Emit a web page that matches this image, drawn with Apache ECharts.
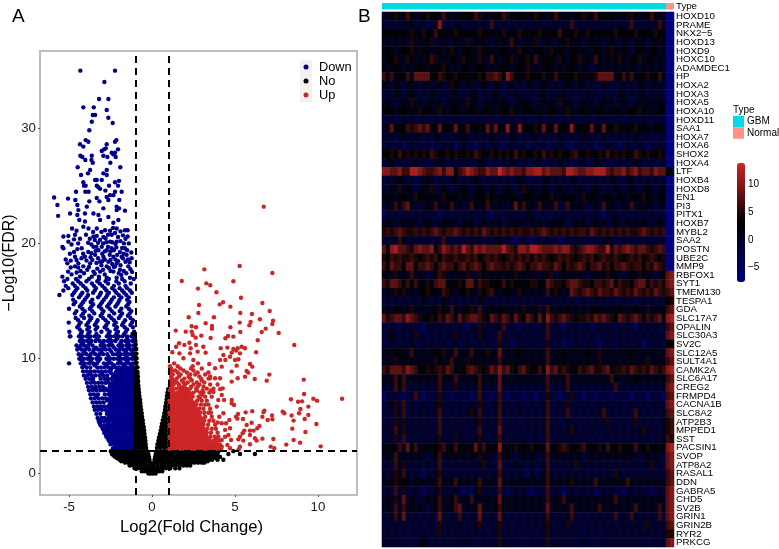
<!DOCTYPE html>
<html><head><meta charset="utf-8">
<style>html,body{margin:0;padding:0;background:#fff}#c{width:779px;height:549px}</style>
<script src="https://cdn.jsdelivr.net/npm/echarts@6/dist/echarts.min.js"></script>
</head><body><div id="c"></div><script>
const font='Liberation Sans';
const xTicks=[-5,0,5,10], yTicks=[0,10,20,30], barTicks=[-5,0,5,10];
const xThresholds=[-1,1], yThreshold=1.9;
// --- volcano: rows are [y, x, x, ...] for the packed mass, pairs [x,y] for loose points
const downRows=[
[2.15,-2.35,-2.12,-1.9,-1.68,-1.46,-1.24,-1.04],
[2.5,-2.5,-2.28,-2.05,-1.83,-1.6,-1.38,-1.15],
[2.8,-2.6,-2.4,-2.18,-1.95,-1.74,-1.52,-1.3,-1.07],
[3.15,-2.75,-2.52,-2.3,-2.08,-1.85,-1.63,-1.41,-1.2,-1.04],
[3.5,-2.88,-2.66,-2.42,-2.2,-1.98,-1.75,-1.55,-1.32,-1.1],
[3.8,-2.95,-2.72,-2.55,-2.33,-2.1,-1.88,-1.66,-1.44,-1.22,-1.04],
[4.15,-3.1,-2.88,-2.65,-2.42,-2.2,-1.98,-1.76,-1.54,-1.32,-1.1],
[4.5,-3.2,-3.0,-2.78,-2.55,-2.33,-2.1,-1.9,-1.68,-1.46,-1.24,-1.04],
[4.8,-3.28,-3.05,-2.85,-2.62,-2.4,-2.2,-1.97,-1.75,-1.55,-1.33,-1.12],
[5.15,-3.35,-3.12,-2.72,-2.5,-2.28,-2.06,-1.84,-1.62,-1.4,-1.18,-1.03],
[5.5,-3.45,-3.25,-3.02,-2.8,-2.58,-2.36,-2.15,-1.92,-1.7,-1.48,-1.26,-1.06],
[5.8,-3.5,-3.28,-3.08,-2.88,-2.65,-2.43,-2.2,-2.0,-1.78,-1.56,-1.34,-1.12],
[6.15,-3.58,-3.36,-3.14,-2.92,-2.5,-2.28,-2.06,-1.84,-1.62,-1.4,-1.2,-1.03],
[6.5,-3.68,-3.45,-3.22,-3.0,-2.78,-2.56,-2.34,-2.12,-1.9,-1.68,-1.46,-1.25,-1.06],
[6.85,-3.72,-3.5,-3.26,-2.85,-2.62,-2.4,-2.18,-1.96,-1.74,-1.52,-1.3,-1.1],
[7.2,-3.8,-3.58,-3.35,-3.12,-2.9,-2.68,-2.46,-2.24,-2.02,-1.8,-1.58,-1.36,-1.15,-1.02],
[7.5,-3.85,-3.62,-3.4,-3.18,-2.96,-2.55,-2.33,-2.1,-1.88,-1.66,-1.44,-1.22,-1.04],
[7.85,-3.92,-3.68,-3.45,-3.24,-3.02,-2.8,-2.6,-2.38,-2.16,-1.94,-1.72,-1.5,-1.28,-1.08],
[8.2,-4.0,-3.78,-3.55,-3.1,-2.88,-2.66,-2.45,-2.22,-2.0,-1.78,-1.56,-1.34,-1.12],
[8.5,-4.1,-3.88,-3.62,-3.4,-3.15,-2.92,-2.7,-2.3,-2.08,-1.86,-1.64,-1.42,-1.2,-1.03],
[8.85,-4.15,-3.92,-3.7,-3.48,-3.25,-3.02,-2.78,-2.55,-2.15,-1.92,-1.7,-1.48,-1.26,-1.06],
[9.2,-4.2,-3.95,-3.72,-3.3,-3.08,-2.85,-2.62,-2.4,-2.2,-1.98,-1.76,-1.54,-1.32,-1.1],
[9.55,-5.0,-4.3,-4.05,-3.8,-3.55,-3.32,-2.9,-2.68,-2.45,-2.05,-1.83,-1.6,-1.38,-1.16],
[9.95,-4.38,-4.1,-3.88,-3.62,-3.35,-3.12,-2.75,-2.52,-2.3,-2.08,-1.85,-1.65,-1.4,-1.2,-1.05],
[10.35,-4.42,-4.2,-3.95,-3.7,-3.42,-3.18,-2.95,-2.7,-2.35,-2.12,-1.9,-1.68,-1.45,-1.25,-1.08],
[10.75,-4.5,-4.25,-4.02,-3.78,-3.5,-3.25,-3.02,-2.78,-2.55,-2.18,-1.96,-1.74,-1.52,-1.3,-1.1],
[11.1,-4.55,-4.3,-4.08,-3.85,-3.58,-3.1,-2.85,-2.6,-2.38,-2.02,-1.8,-1.55,-1.35,-1.12,-1.02],
[11.5,-4.35,-4.12,-3.9,-3.65,-3.4,-3.15,-2.9,-2.66,-2.42,-2.2,-1.85,-1.62,-1.4,-1.18],
[11.9,-4.95,-4.92,-4.4,-4.18,-3.95,-3.7,-3.45,-3.2,-2.72,-2.48,-2.25,-2.0,-1.78,-1.5,-1.25,-1.05],
[12.3,-4.98,-4.22,-3.75,-3.05,-2.55,-2.05,-1.58,-1.08],
[12.7,-4.5,-3.8,-3.3,-2.85,-2.12,-1.65,-1.15],
[13.1,-5.02,-4.3,-3.85,-3.35,-2.65,-2.18,-1.72,-1.2],
[13.5,-4.6,-4.1,-3.65,-2.95,-2.45,-2.0,-1.3],
[13.9,-4.65,-4.15,-3.48,-3.0,-2.28,-1.8,-1.35],
[14.3,-5.0,-4.2,-3.75,-3.05,-2.55,-1.85,-1.4],
[14.7,-4.72,-4.25,-3.55,-3.1,-2.6,-2.1,-1.45],
[15.1,-4.75,-4.05,-3.6,-2.9,-2.42,-1.95,-1.5],
[15.5,-5.58,-4.8,-4.3,-3.85,-3.15,-2.7,-2.0,-1.55],
[15.9,-5.34,-4.6,-3.9,-3.45,-2.75,-2.25,-1.8,-1.33],
[16.3,-5.2,-4.65,-4.15,-3.5,-3.0,-2.3,-1.6],
[16.7,-5.3,-4.45,-3.95,-3.3,-2.8,-2.15,-1.65]
];
const downFill=[
[2.32,-2.2,-1.98,-1.75,-1.52,-1.3,-1.1],
[2.65,-2.42,-2.16,-1.9,-1.66,-1.42,-1.2,-1.02],
[2.98,-2.65,-2.4,-2.2,-1.96,-1.7,-1.47,-1.24,-1.05],
[3.32,-2.78,-2.55,-2.3,-2.05,-1.82,-1.58,-1.3,-1.08],
[3.65,-2.85,-2.6,-2.3,-2.06,-1.8,-1.6,-1.36,-1.14],
[3.98,-3.0,-2.75,-2.5,-2.3,-2.05,-1.82,-1.6,-1.38,-1.16],
[4.32,-3.15,-2.62,-2.3,-2.1,-1.86,-1.62,-1.4,-1.18],
[4.65,-3.22,-2.7,-2.45,-2.25,-2.02,-1.78,-1.58,-1.36,-1.08],
[4.98,-2.58,-2.36,-2.12,-1.92,-1.66,-1.44,-1.22],
[5.32,-2.66,-2.42,-2.2,-1.96,-1.74,-1.5,-1.28,-1.1],
[5.65,-3.12,-2.5,-2.26,-2.04,-1.82,-1.6,-1.4,-1.18],
[5.98,-2.55,-2.32,-2.1,-1.9,-1.68,-1.45,-1.22,-1.05],
[6.32,-2.7,-2.45,-2.2,-1.98,-1.75,-1.52,-1.3,-1.1],
[6.68,-3.35,-2.46,-2.25,-2.02,-1.8,-1.58,-1.38,-1.16],
[7.02,-2.5,-2.3,-2.08,-1.85,-1.62,-1.42,-1.2,-1.04],
[7.35,-3.46,-2.8,-2.36,-2.12,-1.9,-1.7,-1.48,-1.25,-1.08],
[7.68,-2.45,-2.22,-2.0,-1.78,-1.55,-1.32,-1.14],
[8.02,-3.58,-2.68,-2.26,-2.05,-1.84,-1.62,-1.4,-1.2,-1.03],
[8.35,-2.36,-2.14,-1.9,-1.7,-1.48,-1.26,-1.07],
[8.68,-3.75,-3.02,-2.45,-2.2,-1.98,-1.75,-1.53,-1.3,-1.12],
[9.02,-2.48,-2.05,-1.82,-1.6,-1.38,-1.18],
[9.38,-4.1,-3.45,-2.75,-2.3,-1.68,-1.24],
[9.75,-4.22,-3.7,-3.22,-2.6,-1.95,-1.5],
[10.12,-4.28,-3.75,-3.25,-2.62,-1.98,-1.55,-1.12],
[10.55,-4.08,-3.55,-3.05,-2.45,-2.0,-1.58,-1.18],
[10.92,-4.38,-3.9,-3.38,-2.9,-2.3,-1.85,-1.4],
[11.3,-4.2,-3.75,-3.0,-2.5,-1.9,-1.45],
[11.7,-4.25,-3.78,-3.3,-2.55,-2.1,-1.5,-1.08],
[12.1,-4.3,-3.85,-3.35,-2.62,-2.15,-1.68,-1.18],
[12.5,-4.35,-3.9,-3.4,-2.7,-2.2,-1.5],
[12.9,-4.4,-3.95,-3.45,-2.75,-2.28,-1.8,-1.3],
[13.3,-4.45,-3.75,-3.28,-2.8,-2.3,-1.62,-1.15],
[13.7,-4.25,-3.78,-3.1,-2.58,-1.9,-1.45],
[14.1,-4.55,-4.05,-3.6,-2.92,-2.42,-1.95,-1.25],
[14.5,-4.35,-3.65,-3.2,-2.7,-2.2,-1.55],
[14.9,-4.62,-4.15,-3.7,-3.0,-2.5,-2.02,-1.36],
[15.3,-4.4,-3.95,-3.25,-2.78,-2.3,-1.85,-1.4],
[15.7,-4.7,-4.2,-3.55,-3.08,-2.6,-2.15,-1.68,-1.22],
[16.1,-5.05,-4.5,-4.0,-3.38,-2.85,-2.4,-1.95,-1.5],
[16.5,-4.78,-4.3,-3.62,-3.15,-2.65,-2.0,-1.28],
[16.9,-5.1,-4.58,-3.8,-3.2,-2.6,-1.8,-1.1]
];
const downLoose=[[-4.32,35.05],[-2.23,35.05],[-2.87,34.06],[-3.19,32.58],[-2.63,32.58],[-4.14,31.85],[-3.51,31.85],[-2.73,31.62],[-3.43,31.18],[-3.57,31.18],[-2.63,30.95],[-3.63,30.6],[-2.37,30.49],[-3.78,29.85],[-4.0,29.0],[-3.84,28.86],[-2.23,28.86],[-2.15,29.0],[-4.34,28.63],[-4.14,28.43],[-2.73,28.63],[-2.79,28.28],[-2.05,28.19],[-3.03,28.05],[-2.89,28.19],[-2.43,27.9],[-2.23,27.9],[-4.32,27.64],[-4.2,27.53],[-3.63,27.64],[-3.65,27.26],[-2.93,27.64],[-2.69,27.53],[-2.33,27.75],[-2.19,27.53],[-4.02,27.26],[-3.57,27.03],[-2.51,27.03],[-4.48,26.63],[-1.91,26.63],[-2.73,26.39],[-3.73,26.39],[-3.86,26.1],[-4.28,25.96],[-2.93,26.1],[-2.73,25.96],[-3.43,25.52],[-3.33,25.52],[-3.03,25.52],[-2.23,25.32],[-1.99,25.45],[-4.14,25.32],[-4.1,25.03],[-4.0,25.03],[-3.33,25.03],[-3.23,24.9],[-3.13,24.75],[-2.05,25.03],[-2.59,25.03],[-2.81,24.6],[-4.58,24.5],[-4.02,24.5],[-3.82,24.5],[-2.23,24.5],[-1.83,24.5],[-2.53,24.2],[-2.73,24.05],[-2.33,24.2],[-5.9,24.0],[-5.06,23.9],[-4.62,23.78],[-3.33,23.95],[-3.17,23.66],[-2.63,23.78],[-1.97,23.78],[-5.7,23.34],[-4.5,23.34],[-3.78,23.66],[-3.93,23.2],[-2.93,23.05],[-2.13,23.2],[-1.99,23.05],[-5.66,22.4],[-4.94,22.6],[-4.44,22.9],[-4.5,22.47],[-4.04,22.6],[-3.53,22.6],[-3.23,22.47],[-2.63,22.3],[-2.13,22.9],[-1.63,22.85],[-4.38,22.04],[-4.04,21.9],[-3.13,22.04],[-2.33,21.8],[-2.03,22.04],[-4.82,21.3],[-4.14,21.45],[-3.83,21.3],[-3.33,21.3],[-2.83,21.15],[-2.53,21.1],[-2.13,21.3],[-1.63,21.15],[-1.47,21.15],[-5.34,20.6],[-5.04,20.65],[-4.64,20.75],[-3.98,20.75],[-3.53,20.6],[-3.33,20.65],[-2.93,20.55],[-2.43,20.75],[-2.23,20.9],[-1.47,20.6],[-5.04,20.15],[-4.34,20.4],[-3.13,20.3],[-2.53,20.15],[-2.13,20.15],[-1.69,20.0],[-5.4,19.7],[-4.24,19.57],[-3.53,19.7],[-3.03,19.7],[-2.43,19.57],[-1.63,19.57],[-5.34,19.57],[-4.7,19.25],[-3.84,19.25],[-3.23,19.4],[-2.73,19.4],[-1.93,19.25],[-5.2,18.6],[-4.64,18.84],[-4.04,18.84],[-3.43,19.0],[-2.93,18.84],[-2.33,18.84],[-1.83,18.84],[-1.53,19.0],[-1.23,18.7],[-5.1,18.26],[-4.44,18.26],[-3.73,18.26],[-3.13,18.4],[-2.63,18.4],[-2.13,18.26],[-4.64,18.0],[-4.14,18.0],[-2.73,18.0],[-2.23,18.0],[-1.43,18.0],[-5.06,17.54],[-4.54,17.46],[-3.53,17.54],[-3.13,17.54],[-2.33,17.54],[-1.93,17.7],[-5.4,17.1],[-4.34,17.1],[-3.63,17.1],[-2.73,17.0],[-2.13,17.0],[-1.33,17.0],[-4.9,17.9],[-4.3,17.6],[-3.9,17.7],[-3.3,17.8],[-2.95,17.7],[-2.5,17.6],[-2.0,17.4],[-1.7,17.6],[-1.2,17.5],[-3.05,18.1],[-3.35,18.3],[-2.4,18.2],[-1.9,18.1],[-1.6,18.4],[-2.85,18.6],[-3.25,18.7],[-2.2,18.6],[-1.75,18.7],[-1.45,18.6],[-3.7,18.8],[-3.0,19.1],[-2.55,19.0],[-2.1,19.0],[-1.7,19.1],[-2.85,19.3],[-3.4,19.35],[-2.3,19.4],[-1.8,19.6],[-2.65,19.7],[-2.95,20.0],[-2.4,20.1],[-1.9,20.2],[-1.6,20.4],
[-4.85,17.3],[-4.45,17.9],[-4.1,17.4],[-3.8,17.95],[-3.45,17.35],[-3.2,17.1],[-2.85,17.3],[-2.6,17.85],[-2.3,17.95],[-1.85,17.25],[-1.55,17.4],[-1.3,17.75],[-4.9,18.5],[-4.55,18.55],[-4.25,18.7],[-3.95,18.5],[-3.6,18.55],[-3.0,18.45],[-2.5,18.55],[-2.05,18.45],[-1.35,18.35],[-4.95,19.1],[-4.5,19.5],[-4.15,19.1],[-3.65,19.15],[-3.35,19.7],[-2.5,19.3],[-2.15,19.65],[-1.5,19.4],[-1.25,19.2],[-4.85,19.9],[-4.45,20.0],[-3.85,20.05],[-3.65,19.9],[-3.25,20.05],[-2.75,20.1],[-2.2,19.95],[-1.4,20.0],[-4.7,20.35],[-3.75,20.4],[-3.45,20.3],[-2.8,20.45],[-2.65,20.75],[-2.05,20.55],[-1.75,20.7],[-4.55,21.1],[-3.55,21.0],[-3.05,21.0],[-2.35,21.35],[-1.9,21.05]];
const noRows=[
[-0.05,-0.22,-0.08,0.07,0.22],
[0.15,-0.62,-0.45,-0.28,-0.1,0.08,0.26,0.44,0.62],
[0.4,-1.05,-0.85,-0.65,-0.45,-0.25,-0.08,0.08,0.25,0.45,0.65,0.85,1.1,1.4,1.65],
[0.65,-1.35,-1.15,-0.95,-0.75,-0.55,-0.35,-0.12,0.1,0.32,0.55,0.75,0.98,1.2,1.42,1.65,1.88,2.1,2.3],
[0.9,-1.62,-1.42,-1.2,-1.0,-0.8,-0.6,-0.38,-0.12,0.12,0.35,0.58,0.8,1.02,1.25,1.46,1.68,1.9,2.12,2.35,2.56,2.78,3.0,3.15],
[1.15,-1.95,-1.75,-1.55,-1.35,-1.12,-0.9,-0.7,-0.48,-0.15,0.15,0.38,0.6,0.82,1.05,1.25,1.48,1.7,1.92,2.14,2.36,2.58,2.8,3.02,3.25,3.45,3.62,3.95,4.3],
[1.4,-2.22,-2.02,-1.8,-1.6,-1.38,-1.15,-0.95,-0.72,-0.5,-0.18,0.18,0.42,0.65,0.88,1.08,1.3,1.52,1.74,1.96,2.18,2.4,2.62,2.84,3.05,3.28,3.5,3.72,3.95,4.1],
[1.65,-2.42,-2.2,-2.0,-1.78,-1.55,-1.32,-1.1,-0.88,-0.65,-0.42,-0.22,0.22,0.45,0.68,0.9,1.12,1.34,1.56,1.78,2.0,2.22,2.44,2.66,2.88,3.1,3.32,3.55,3.78,3.95,4.6,5.3,6.2],
[1.9,-2.48,-2.28,-2.05,-1.82,-1.6,-1.38,-1.15,-0.92,-0.7,-0.48,-0.3,0.28,0.5,0.72,0.95,1.18,1.4,1.62,1.84,2.06,2.28,2.5,2.72,2.94,3.16,3.38,3.6,3.82,4.0,4.9],
[2.2,-0.98,-0.78,-0.58,-0.36,0.3,0.52,0.75,0.98],
[2.5,-0.98,-0.8,-0.6,-0.38,0.33,0.55,0.78,0.98],
[2.8,-0.98,-0.78,-0.58,-0.4,0.38,0.6,0.8,0.98],
[3.1,-0.98,-0.8,-0.62,-0.42,0.42,0.62,0.82,0.98],
[3.4,-0.98,-0.8,-0.62,-0.45,0.47,0.66,0.84,0.98],
[3.7,-0.98,-0.82,-0.65,-0.47,0.52,0.7,0.86,0.98],
[4.0,-0.98,-0.82,-0.66,-0.5,0.56,0.72,0.88,0.98],
[4.3,-0.98,-0.83,-0.68,-0.54,0.6,0.76,0.9,0.98],
[4.6,-0.98,-0.84,-0.7,-0.56,0.65,0.8,0.92,0.98],
[4.9,-0.98,-0.85,-0.72,-0.6,0.7,0.84,0.96],
[5.2,-0.98,-0.86,-0.74,-0.62,0.74,0.86,0.98],
[5.5,-0.98,-0.87,-0.75,-0.65,0.78,0.9,0.98],
[5.8,-0.98,-0.88,-0.77,-0.68,0.8,0.92,0.98],
[6.1,-0.98,-0.88,-0.78,-0.7,0.84,0.94],
[6.4,-0.98,-0.88,-0.78,-0.72,0.88,0.96],
[6.7,-0.98,-0.88,-0.76,0.9,0.98],
[7.0,-0.98,-0.88,-0.78,0.93,0.98],
[7.3,-0.98,-0.89,-0.8,0.97],
[7.6,-0.98,-0.9,-0.82],
[8.0,-0.98,-0.9,-0.84],
[8.4,-0.98,-0.9,-0.85],
[8.8,-0.98,-0.92,-0.87],
[9.2,-0.98,-0.92,-0.88],
[9.6,-0.98,-0.93],
[10.0,-0.98,-0.93],
[10.4,-0.98,-0.94],
[10.8,-0.98,-0.95],
[11.2,-0.99],
[11.5,-1.0],
[12.1,-1.08]
];
const noFill=[[1.02,-1.85,-1.65,-1.45,-1.25,-1.02,-0.8,-0.6,-0.28,0.28,0.5,0.72,0.95,1.15,1.36,1.58,1.8,2.02,2.24,2.46,2.68,2.9,3.12,3.35],[1.28,-2.1,-1.9,-1.7,-1.48,-1.25,-1.05,-0.82,-0.6,-0.3,0.3,0.52,0.75,0.98,1.18,1.4,1.62,1.84,2.06,2.28,2.5,2.72,2.94,3.16,3.4,3.6,3.85],[1.53,-2.32,-2.1,-1.9,-1.68,-1.45,-1.22,-1.0,-0.78,-0.55,-0.32,0.33,0.55,0.78,1.0,1.22,1.44,1.66,1.88,2.1,2.32,2.54,2.76,2.98,3.2,3.42,3.65,3.88],[1.78,-2.38,-2.15,-1.92,-1.7,-1.48,-1.25,-1.02,-0.8,-0.58,-0.38,0.38,0.6,0.82,1.05,1.28,1.5,1.72,1.94,2.16,2.38,2.6,2.82,3.04,3.26,3.48,3.7,3.9],[2.35,-0.9,-0.7,-0.5,0.42,0.65,0.88],[2.65,-0.9,-0.7,-0.48,0.45,0.68,0.9],[2.95,-0.88,-0.7,-0.5,0.5,0.72,0.9],[3.25,-0.9,-0.72,-0.52,0.55,0.75,0.92],[3.55,-0.9,-0.72,-0.55,0.58,0.78,0.92],[3.85,-0.9,-0.75,-0.56,0.62,0.8,0.94],[4.15,-0.9,-0.75,-0.6,0.66,0.82,0.95],[4.45,-0.9,-0.76,-0.62,0.72,0.86],[4.75,-0.9,-0.78,-0.65,0.76,0.9],[5.05,-0.92,-0.8,-0.68,0.8,0.92],[5.35,-0.92,-0.8,-0.7,0.82,0.94],[5.65,-0.92,-0.82,-0.72,0.86,0.95],[5.95,-0.93,-0.83,-0.74],[6.25,-0.93,-0.83,-0.75],[6.55,-0.93,-0.83],[7.15,-0.93,-0.84],[7.45,-0.94,-0.85],[7.8,-0.94,-0.87],[8.2,-0.94,-0.88],[8.6,-0.95,-0.89]];
const upRows=[
[2.1,1.05,1.27,1.48,1.7,1.93,2.14,2.36,2.58,2.8,3.03,3.24,3.46,3.71,3.92,4.16],
[2.45,1.05,1.26,1.5,1.72,1.95,2.16,2.38,2.6,2.82,3.05,3.26,3.5,3.72,3.95,4.1],
[2.8,1.05,1.28,1.5,1.7,1.92,2.14,2.36,2.58,2.82,3.04,3.25,3.48,3.7,4.05],
[3.15,1.05,1.27,1.48,1.7,1.94,2.16,2.38,2.6,2.84,3.06,3.28,3.52,3.78,4.0],
[3.5,1.05,1.26,1.48,1.72,1.95,2.17,2.4,2.62,2.84,3.08,3.3,3.55,3.95],
[3.85,1.05,1.27,1.5,1.72,1.94,2.16,2.38,2.62,2.85,3.08,3.32,3.6,3.85],
[4.2,1.05,1.28,1.5,1.72,1.95,2.18,2.4,2.62,2.86,3.1,3.38,3.8],
[4.55,1.05,1.27,1.48,1.7,1.93,2.16,2.38,2.6,2.84,3.15,3.45,3.7],
[4.9,1.05,1.26,1.5,1.72,1.94,2.16,2.4,2.62,2.88,3.2,3.6],
[5.25,1.05,1.28,1.5,1.72,1.95,2.17,2.38,2.64,2.9,3.15,3.4,3.55],
[5.6,1.05,1.27,1.48,1.7,1.93,2.15,2.4,2.65,2.85,3.1,3.5],
[5.95,1.05,1.26,1.5,1.72,1.94,2.18,2.42,2.68,2.95,3.2,3.4],
[6.3,1.05,1.28,1.5,1.72,1.95,2.16,2.38,2.72,3.0,3.3],
[6.65,1.08,1.3,1.5,1.72,1.94,2.16,2.45,2.8,3.2,3.6],
[7.0,1.1,1.32,1.55,1.78,2.0,2.24,2.5,2.9,3.1,3.45],
[7.35,1.18,1.45,1.8,2.06,2.3,2.66,3.3,3.7],
[7.7,1.08,1.3,1.62,1.98,2.5,2.85,3.5],
[8.05,1.1,1.35,1.8,2.4,3.0],
[8.4,1.15,1.62,2.2,2.85,3.5],
[8.75,1.08,1.55,2.1,2.75,3.4],
[9.1,1.15,1.7,2.35,3.0]
];
const upFill=[
[2.28,1.15,1.38,1.6,1.82,2.04,2.26,2.48,2.7,2.92,3.14,3.36,3.58,3.82,4.05],
[2.62,1.15,1.38,1.6,1.82,2.05,2.27,2.5,2.72,2.94,3.16,3.38,3.6,3.85],
[2.98,1.16,1.38,1.6,1.82,2.04,2.25,2.48,2.7,2.93,3.15,3.38,3.9],
[3.32,1.15,1.37,1.6,1.82,2.05,2.28,2.5,2.73,2.95,3.18],
[3.68,1.15,1.38,1.6,1.83,2.05,2.28,2.5,2.74,2.96,3.2],
[4.02,1.16,1.38,1.6,1.83,2.05,2.28,2.5,2.74,2.98],
[4.38,1.15,1.38,1.6,1.83,2.06,2.28,2.5,2.74,3.0],
[4.72,1.16,1.38,1.6,1.82,2.05,2.28,2.5,2.74,3.02],
[5.08,1.15,1.38,1.6,1.83,2.05,2.28,2.5,2.76],
[5.42,1.16,1.38,1.6,1.83,2.06,2.28,2.5,2.78],
[5.78,1.15,1.38,1.6,1.82,2.05,2.28,2.52],
[6.12,1.16,1.38,1.6,1.83,2.06,2.3,2.55],
[6.48,1.15,1.38,1.62,1.84,2.06,2.3,2.9],
[6.82,1.2,1.42,1.62,1.84,2.08,2.35,3.0],
[7.18,1.08,1.25,1.68,1.9,2.12,2.7,3.05,3.55],
[7.52,1.2,1.65,1.88,2.35,2.75,3.1],
[7.88,1.2,1.5,1.9,2.15,2.7,3.15],
[8.22,1.2,1.48,1.95,2.3,2.95,3.4],
[8.58,1.25,1.72,2.3,2.6,3.2],
[8.92,1.2,1.4,1.9,2.5],
[9.3,1.08,1.55,2.45]
];
const upLoose=[[6.73,23.2],[5.28,18.03],[3.15,17.74],[7.25,17.42],[1.79,16.72],[4.9,16.7],[3.27,16.52],[3.51,16.35],[2.77,16.06],[3.88,15.74],[5.36,15.27],[4.28,14.87],[4.08,14.69],[6.65,14.81],[2.83,14.63],[4.72,14.49],[2.79,13.94],[5.32,13.94],[7.09,14.11],[6.02,13.85],[2.21,13.56],[3.73,13.56],[6.5,13.39],[5.28,13.1],[3.23,13.04],[7.29,13.27],[7.25,12.98],[5.94,13.15],[5.86,12.86],[2.39,12.78],[2.65,12.69],[3.61,12.8],[3.61,12.57],[4.72,12.69],[6.85,12.57],[1.43,12.4],[2.03,12.31],[2.39,12.31],[5.32,12.28],[6.61,12.28],[7.63,12.2],[2.97,11.96],[2.45,12.02],[3.53,11.76],[2.63,11.79],[4.58,11.93],[4.42,11.73],[4.9,11.88],[6.37,11.56],[8.57,11.15],[1.63,11.3],[1.45,11.0],[1.95,11.15],[2.25,11.35],[2.33,10.86],[2.65,11.15],[3.09,11.0],[4.14,10.86],[4.54,10.92],[4.9,10.8],[5.16,10.86],[5.4,11.0],[5.6,10.86],[6.27,10.51],[1.22,10.51],[1.65,10.42],[2.29,10.42],[2.75,10.57],[3.23,10.48],[4.8,10.48],[5.3,10.42],[5.06,10.66],[4.3,10.28],[4.1,9.84],[4.7,10.13],[5.0,9.84],[5.2,9.9],[4.42,9.84],[1.33,9.55],[1.89,9.99],[2.49,9.84],[2.77,9.55],[3.45,9.49],[5.9,9.49],[6.04,9.26],[5.1,9.35],[4.2,9.26],[3.8,9.12],[4.8,8.83],[5.7,8.88],[5.8,8.74],[5.6,8.39],[7.07,8.57],[6.91,8.04],[6.19,8.19],[5.16,8.25],[4.8,7.96],[9.14,8.13],[4.1,8.25],[3.8,8.25],[3.49,8.25],[9.16,6.88],[8.37,6.42],[8.8,6.21],[9.04,6.24],[9.72,6.47],[9.94,6.3],[11.45,6.47],[9.42,5.78],[8.94,5.57],[8.86,5.2],[9.42,5.05],[7.87,5.34],[7.97,5.2],[8.41,5.0],[9.2,4.7],[8.53,4.56],[9.9,4.27],[8.45,3.86],[9.24,3.57],[8.53,2.87],[8.92,2.64],[8.09,2.47],[10.16,2.32],[7.15,2.29],[7.37,2.15],[7.31,2.96],[6.65,2.99],[7.23,5.0],[7.25,4.67],[6.97,4.62],[6.77,5.43],[6.65,4.9],[6.71,5.3],[6.04,5.37],[5.64,5.28],[5.18,5.14],[5.06,4.9],[5.14,4.73],[5.48,4.7],[6.0,4.38],[5.7,4.18],[6.47,4.09],[6.34,3.89],[5.9,3.69],[6.12,3.69],[5.56,3.69],[5.46,3.46],[5.3,3.16],[5.2,2.93],[5.5,2.82],[5.9,3.31],[6.2,3.02],[6.3,2.82],[5.9,2.5],[5.3,2.29],[5.22,2.06],[4.66,4.62],[4.46,4.33],[4.7,3.89],[4.8,6.36],[4.94,5.92],[4.8,6.07],[4.3,5.2],[4.2,4.33],[4.4,3.75],[4.6,3.31],[4.76,2.87],[4.4,3.16],[4.2,2.87],[4.54,2.44],[4.7,2.15],[4.2,2.29],[4.34,6.36],[4.2,6.79],[4.26,7.37],[3.99,6.36],[3.9,5.78],[4.1,7.3],[3.7,7.05],[3.95,7.7],[4.05,4.9],[3.95,4.4]];
// --- heatmap
const genes=['HOXD10','PRAME','NKX2\u22125','HOXD13','HOXD9','HOXC10','ADAMDEC1','HP','HOXA2','HOXA3','HOXA5','HOXA10','HOXD11','SAA1','HOXA7','HOXA6','SHOX2','HOXA4','LTF','HOXB4','HOXD8','EN1','PI3','PITX1','HOXB7','MYBL2','SAA2','POSTN','UBE2C','MMP9','RBFOX1','SYT1','TMEM130','TESPA1','GDA','SLC17A7','OPALIN','SLC30A3','SV2C','SLC12A5','SULT4A1','CAMK2A','SLC6A17','CREG2','FRMPD4','CACNA1B','SLC8A2','ATP2B3','MPPED1','SST','PACSIN1','SVOP','ATP8A2','RASAL1','DDN','GABRA5','CHD5','SV2B','GRIN1','GRIN2B','RYR2','PRKCG'];
const levels={n:-7.2,a:-4,b:-1.5,c:0.5,d:2,e:3.2,f:4.5,g:6,h:8,i:10,j:12,k:13.5};
const gbmRows=[
"ccdfcdgdcc dfdecgdccd dedgfcdcdd gfcdedcdfd dcegdcdcdd fcdgddcedc dcfdcdegdc d",
"cbcbcbcdbc cbbcibcbcc bcbcbcbgcb cbcbcbcbcc bcbcbcbgbc bcbcbcbcbc cbgbcbcbcg c",
"ddeededfde fedgeddefe deedfeedde fdedfededf eddegedefd dfededdefe edefdeedfd e",
"cdbdcdbfcd cdfbcdcbdc cfbdcdcbdc dcgdbcdcfb cdcbdcfdcd bcdcdbcdcb dcbdcdbcdc d",
"dedcdedfdc edcdecdfdc dedcfdedcd edcdfedcde dcfdedcdec dcdedcdfdc edbdedcdec d",
"ceefdcfecd cegfcdcedc fdecfdcgdc defcedfdgc deecfdcedf cecgdcecdf dcedfcedcd c",
"dcdedcdcde dcdedfdcdc edcdedcdcd edcdedfcdc dedcdcdedc dcbcdcdcdc dcdcbdcdcd c",
"gdgdedgdhh hhdegfedfe dedefegghg digdedfede fdegdedefd dedfhhhhde gdgdedfdeg d",
"dcbdcbcdcb cdbcdbcfdc bdcbcdcbdc bcdbcbdcbc dcbdbcdcbd cbcbbdcbcb dbcbdcbcdb c",
"bcbdcbcdcb cbdcbcbcdb cbcdbcbcdc bcbdbcbcbc dbcbcdbcbc bdbcbcbcbd cbcbcdbcbc b",
"cdcbcdcfcd bcdcdbcdcd cfcdbcdcdc dcbcdcdcbc dcdcfcdcbc dcdbcdcdbc dcbcdcdcdc d",
"dedcdeddcf dedcfdcded cdedcdedcd edfdcdedcd cdedcdfdcd edcdedcded cdedfdcdcd e",
"bbcbbcbcbb cbbcbbcbcb bcbbcbbcbb cbcbbcbbbc bbcbbcbcbb bcbbcbcbbc bbcbbcbbcb b",
"cdhdedgfgh ghedhdedhd dgdedehdhd dicdidedfd hdehdedide dehdehdefd dedfdedcde d",
"cbcbcdcbdc bcbdcbcbcc dcbcbcbdcb cbdcbcbcdb cbcbdcbcbc dcbcbdbcbc bcbdcbcbcb c",
"bcbbcabcbb bcabbcbcab cbbabcbbcb abcbbcabbb cabbcbbabc bbcabbcbba bcbbcbabbc b",
"defegefdfe fdgfedfefd efdgfedfef dfegdfedfe gdfefdefgd efdefdgefd fedgfefdef d",
"bcdbcbcbdb cbbcdcbcbc bcbbdcbbcb cbdbbcbbcc bbcbdbcbbc cbbdcbcbbc bcbdcbbcbb c",
"iihhiggjji hgghigiieg hjihggihhk ihihhgiijj hihhhgjjih hiijjjhghh ighighhgih h",
"bcbcdcbcbb cdcbcbbcdb cbcdcbcbbc bcbcdcbbcb cdbcbcbdcb cbbcbcbdcb bcdbcbcbcb c",
"cbdcfcdcbc dcfbcdcbcc dcbcdcbdcb cdcbcfcdcb dcbcdbcbcd cbcdcbcbdc bcdcbcdcbc d",
"dedcdedcfe ddedcfdedc edcdedfecd ededcdedcd edfdcededc fdedcdedce dcdedfedcd e",
"bdcgdghdcb cdcgdcdgcd bcgdcdgdcd cbdhdgcdcg dcdgcbgdcd cbcdcgcdcb dcgcdcdcbc d",
"acbcbbcbcb cbcbabcbcb cbcbbcbacb bcbcbbdcbb cbbcbcbcbb cbbcbacbcb cbbcbcbcbc b",
"cdcbcdcdcb cdcbcdcdcb dcdbcdcdcd bcdcdcbdcd bcdcdcbcdc dbcdcdbcdc bdcdcdcbcd c",
"fgfghgffgf gfghgfgghg fgfgfhgfgf gfgfgffgfg hgfgfgfgfg gfhgfgfgfg fgffghgfgf g",
"bcbcgdbcbc bcbcbgcbcb cbdbcbcbcd bcbabcbabc bcbcabcbcb cbbcbcdcbb cbcbcbcbcb c",
"heijhhgfhi hhiegihghg jhgihihhhh jhgfiihjji hhhihiigfg hiihggjfhg hihghhgfgh g",
"fegfgffgfe fgfgegffgf fgfgefgfgf efgfgfgegf gfefgfgfef gfgefgffgf efgfgefgfe f",
"gdhggehhdg ghgeghggeg hfghgeghgg fgfghgeggh ggfhgegfgh gegghfgegg hgfggegfhg f",
"cdcfcdcgcd cbcdgfcdcd cfcbfdcdcd cdcfcdcdcb dcfbcdcdcd cbcdcdfcdc bcdcfcdcbc d",
"gfhhgdgegd dfdghhedef ehhegffeee gefeedeffe dhgffeghhg ffeggfgheg ffeghhegfg f",
"cdcfefcdcd efedcgfdcd efdcfefgdc dedcfdcdcd cgdfdcdhgf ghgfhggfhg fgfhgfgfhg f",
"bcbcbcbbcb dcbcbdcbcb cbcbdcbcbc bcbbcbcbcb bcbcbcbcbb cbbcbcbcbb cbcbbcbcbc b",
"cdceecdfcd ccddfecgdc defcgcdece dcdcdfcdcf cgdcdcecdc dcdedcdcde cdcedcfcdc d",
"hfghhgihgf defdgfhgdh fghhgfdhgf hgdhfehgdh eigfghgfdf fgfhghgfeh gfghgdgfgh e",
"bbcbacbcbb abcbcbbcbc bacbfbcbcb gbcbacbcbb cgbcbacbcb bcabcbcbbc bcbacbcbcb b",
"bcdcbcbcfb cbcbcbcbfc bcbcfcbcbg cbcbcbcbbc bgcbcbcbcb cbcbbcbcbc bcbcbcbcbc b",
"bbcbbcbcbb cbcbbcbbcb bcbbcbcbbf bcabbcbbcb bfbbcabbcb bcbbabcbbc bcbbcabbcb b",
"cdceedcgdc dcdedfcdgc dcgdcdfcdh cdcdedcdcd cgcdcedcdc dedcfdcdcd cdedcdcdcd c",
"cdcfcecdcd cdcfdcdgcd cfcdcdcdcg cdcdcdcdcd cgcdcecdcd cdcdfcdcdc dcdcdcfcdc d",
"gfhhhgihgd efdfgfhgdd eghgfdfhgi ghfdghfdeg eighfgfdeg fghffgheff gfhgfgfhgf g",
"cdcgdgcdcd cdcdgcdcgc dcdegdcdch cdcdcdcdcd cgcdcdgcdc dcdcdcdgdc cdcedcdcdc d",
"cbcgdgbcbc bcbcgcbcfc bcbcgcbcbh cbcbcbcbcb cgbcbcgcbc bcbcbcbcgb cbcbcbcbcb c",
"abbbbabbgb abbbfbbabb bbabgbbabg babbbabbab bfbbabbfbb abbabbbabb bbabbbabbb a",
"bbcfbgbcbb cbbcfbcbbc bbcbfcbbcg bcbbcbbcbb cgbbcbfbcb bcbbcbcbbc bbcbbcbbcb b",
"bcbfcgbcbc bcbcgcbcbc bcfcgbcbcg cbcbcbcbcb cgbcbcgbcb cbcbcgbcbc bcbgcbcbcb c",
"bcbfbfbcbc bcbbgbcbcb bcbcfbcbcg bcbcbbcbcb cgbcbbcbcb bcbcbcfbcb cbcfbcbcbb c",
"cbcgcfcbcb cbcbgcbcbc cbcbgcbcbh cbcbcbcbcb cgcbcbcfcb cbcbcbcbcb cbcbcfcbcb c",
"bcbfbgbcbc bcbcfbcbfc bcbcfbcbcg bcbcbcbbcb cgbcbcbcbc bcbcbbcbcb cbcbcbcbcb c",
"ededgdhegd dedefgdegd edehdgedei dedfdedfed dhdefgfedf gdedfdgdef dedgdefded e",
"cdcgcdcdcd cbcdgcdcdc dcdcfcdcbg cdcbcdcdcb cgcdcdcdcd bcdcdcdcdc dcdcbcdcdc b",
"bcbgcfbcbc bcbcgbcbcb cbcbcfbcbh bcbcbcbcbb cgbcbcbcfb cbcbcbcbcb cbcbcbcfbc b",
"cbcfcgcbcb acbcfcbcbc bcbcbcbbcg cbcbcbacbb cgcbcbcbcb cbcbcbcbfc bcbcbcbcbc b",
"dcdfdedcdc dcdcgdcdgd cdcdgdcdch dcdcdcdcdc dgdcdcdfdc dcdgdcdcdc dgdcdcdcdc d",
"bcbgbfbbcb abbcfbcbcb abacfbcbbg babcbcbabb bgbcbabcbb cbcabcbcbb abcbcbbabc b",
"cdcfchcdcb cdcdgdcdgc dcgcdcdcdh cdcdcdcdcd cgcdcgcdcd cdcdcdcdgd cdcdcdcdcd c",
"cdcgcgcdcd cbcdgcdcgh cdcdhcdcdg cdcdcdcdcd chcdcdcgcd cdcdgdcdcd cdcgcdcdcg c",
"cbcgchcbcb cbcbhcbcbg cbcbhcbcbh cbcbcbcbcb cgcbcbcgcb cbcbcbcbgb cbgcbcbcbg b",
"bcbcbcbcbc bbcbfbcbcc bcbcfbcbcf bcbbcbcbcb cfbcbcfbcb bcbcbcbcbb cbcbcbfbcb c",
"bcbcbcbbcb cbcbfbcbcb bcbcbcbbcf bcbcbcbcbb cfcbcbcbcb bcbcbbcbcb cbcbcbcbcb c",
"cbcbcbcbbc dcbcbcbcbc cbcbbcbcbf cbcbcbbcbc bfbcbcbcbc cbcbbcbcbc bcbcbcbbcb c"
];
const normalRows=["nn","nn","nn","nn","nn","nn","nn","nn","nn","nn","nn","nn","nn","nn","nn","nn","nn","nn","ec","nn","nn","nn","nn","nn","nn","nn","nn","nn","nn","nn","hi","hi","gh","ef","gh","ij","gh","hi","ee","hi","gh","ij","gh","hi","gh","hi","gh","fg","fg","gf","ij","hi","hi","gh","gh","hi","hi","hi","hi","gh","ff","hi"];
const typeNames=['GBM','Normal'], typeCounts=[71,2];
const columns=Array.from({length:typeCounts[0]+typeCounts[1]},(_,i)=>'S'+(i+1));

const expand=rows=>rows.flatMap(([y,...xs])=>xs.map(x=>[x,y]));
const heatData=[];
genes.forEach((g,r)=>{
  const gbm=gbmRows[r].replace(/ /g,'');
  for(let c=0;c<typeCounts[0];c++) heatData.push([c,r,levels[gbm[c]]]);
  for(let c=0;c<typeCounts[1];c++) heatData.push([typeCounts[0]+c,r,levels[normalRows[r][c]]]);
});
const dot={symbol:'circle',symbolSize:4.4,silent:true,xAxisIndex:0,yAxisIndex:0,type:'scatter'};
const chart=echarts.init(document.getElementById('c'),null,{renderer:'canvas'});
chart.setOption({
  animation:false,backgroundColor:'#fff',
  textStyle:{fontFamily:font},
  title:[
    {text:'A',left:12,top:7,padding:0,textStyle:{fontFamily:font,fontSize:19,fontWeight:'normal',color:'#000'}},
    {text:'B',left:358,top:7,padding:0,textStyle:{fontFamily:font,fontSize:19,fontWeight:'normal',color:'#000'}},
    {text:'Type',left:733,top:105,padding:0,textStyle:{fontFamily:font,fontSize:10,fontWeight:'normal',color:'#000'}}
  ],
  graphic:[{type:'rect',shape:{x:300,y:60,width:12,height:42},style:{fill:'#F2F2F2'},z:0,silent:true}],
  legend:[
    {data:[{name:'Down',icon:'circle'},{name:'No',icon:'circle'},{name:'Up',icon:'circle'}],orient:'vertical',left:303.5,top:60,padding:0,itemWidth:5,itemHeight:5,itemGap:0,selectedMode:false,
     textStyle:{fontFamily:font,fontSize:12.8,lineHeight:14,color:'#000',padding:[0,0,0,5.5]}},
    {data:[{name:'GBM',icon:'rect'},{name:'Normal',icon:'rect'}],orient:'vertical',left:733,top:116,padding:0,itemWidth:11,itemHeight:11.4,itemGap:0,selectedMode:false,
     textStyle:{fontFamily:font,fontSize:10,lineHeight:11.4,color:'#000',padding:[0,0,0,-2]}}
  ],
  grid:[
    {left:40,top:51,width:317,height:444,show:true,borderColor:'#BEBEBE',borderWidth:2,backgroundColor:'#fff'},
    {left:382,top:12,width:292,height:535,show:false},
    {left:382,top:3,width:292,height:6.5,show:false},
    {left:737,top:163,width:8,height:119,show:false}
  ],
  xAxis:[
    {gridIndex:0,type:'value',min:-6.75,max:12.35,splitLine:{show:false},axisLine:{show:false,onZero:false},
     axisTick:{length:2,lineStyle:{color:'#555'},customValues:xTicks},
     axisLabel:{customValues:xTicks,fontSize:13.3,color:'#222',margin:6,fontFamily:font},
     name:'Log2(Fold Change)',nameLocation:'middle',nameGap:23,nameTextStyle:{fontFamily:font,fontSize:16.6,color:'#000',padding:[0,14,0,0],verticalAlign:'top'}},
    {gridIndex:1,type:'category',data:columns,show:false},
    {gridIndex:2,type:'value',min:0,max:typeCounts[0]+typeCounts[1],show:false},
    {gridIndex:3,type:'value',min:0,max:1,show:false}
  ],
  yAxis:[
    {gridIndex:0,type:'value',min:-1.92,max:36.76,splitLine:{show:false},axisLine:{show:false,onZero:false},
     axisTick:{length:2,lineStyle:{color:'#555'},customValues:yTicks},
     axisLabel:{customValues:yTicks,fontSize:13.3,color:'#222',margin:4,fontFamily:font},
     name:'\u2212Log10(FDR)',nameLocation:'middle',nameGap:21,nameTextStyle:{fontFamily:font,fontSize:16,color:'#000',padding:[0,0,0,20]}},
    {gridIndex:1,type:'category',data:genes,inverse:true,position:'right',axisLine:{show:false},axisTick:{show:false},splitLine:{show:false},
     axisLabel:{interval:0,margin:2,fontSize:9.7,color:'#000',fontFamily:font,hideOverlap:false}},
    {gridIndex:2,type:'category',data:['Type'],position:'right',axisLine:{show:false},axisTick:{show:false},
     axisLabel:{margin:2,fontSize:9.7,color:'#000',fontFamily:font}},
    {gridIndex:3,type:'value',min:-7.6,max:13.9,position:'right',splitLine:{show:false},axisLine:{show:false},axisTick:{show:false},
     axisLabel:{customValues:barTicks,margin:3,fontSize:10,color:'#000',fontFamily:font,formatter:v=>String(v).replace('-','\u2212')}}
  ],
  visualMap:[{type:'continuous',seriesIndex:3,dimension:2,min:-7.6,max:13.9,calculable:false,show:true,left:737,top:163,itemWidth:8,itemHeight:119,padding:0,
    inRange:{color:['#000080','#000000','#CD2626']},textGap:0,hoverLink:false}],
  series:[
    Object.assign({},dot,{name:'Down',itemStyle:{color:'#00008B',opacity:1},data:expand(downRows).concat(expand(downFill),downLoose)}),
    Object.assign({},dot,{name:'No',itemStyle:{color:'#000000',opacity:1},data:expand(noRows).concat(expand(noFill))}),
    Object.assign({},dot,{name:'Up',itemStyle:{color:'#CD2626',opacity:1},data:expand(upRows).concat(expand(upFill),upLoose),
      markLine:{silent:true,symbol:'none',label:{show:false},animation:false,lineStyle:{type:[7,5],width:2,color:'#000'},
        data:[...xThresholds.map(v=>({xAxis:v})),{yAxis:yThreshold}]}}),
    {type:'heatmap',name:'Expression',xAxisIndex:1,yAxisIndex:1,data:heatData,progressive:0,silent:true,
      itemStyle:{borderColor:'rgba(125,125,140,0.12)',borderWidth:0.4},emphasis:{disabled:true}},
    {type:'bar',name:typeNames[0],stack:'t',xAxisIndex:2,yAxisIndex:2,barWidth:'100%',itemStyle:{color:'#00DAE0'},data:[typeCounts[0]],silent:true},
    {type:'bar',name:typeNames[1],stack:'t',xAxisIndex:2,yAxisIndex:2,barWidth:'100%',itemStyle:{color:'#FF9289'},data:[typeCounts[1]],silent:true}
  ]
});
</script></body></html>
